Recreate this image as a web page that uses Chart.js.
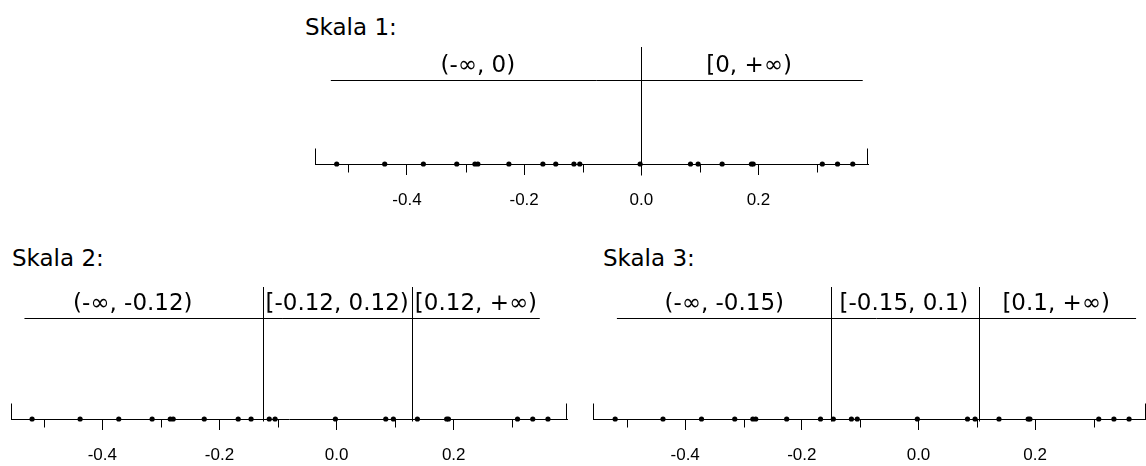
<!DOCTYPE html>
<html>
<head>
<meta charset="utf-8">
<script src="https://cdn.jsdelivr.net/npm/chart.js@4.4.1/dist/chart.umd.min.js"></script>
<style>
  html, body { margin: 0; padding: 0; background: #fff; overflow: hidden; }
  body { width: 1146px; height: 466px; position: relative; }
  canvas { position: absolute; left: 0; top: 0; }
  .title { position: absolute; font-family: "DejaVu Sans", sans-serif; font-size: 23px; color: #000; line-height: 1; }
</style>
</head>
<body>
<div class="title" style="left:305px; top:16px;">Skala 1:</div>
<div class="title" style="left:12px; top:247px;">Skala 2:</div>
<div class="title" style="left:603px; top:247px;">Skala 3:</div>
<canvas id="c1" width="1150" height="480"></canvas>
<canvas id="c2" width="1150" height="480"></canvas>
<canvas id="c3" width="1150" height="480"></canvas>
<script>
// observed values (same sample on every scale)
const values = [-0.520, -0.438, -0.372, -0.315, -0.284, -0.279, -0.226, -0.168, -0.146, -0.115,
                -0.105, -0.002, 0.084, 0.097, 0.138, 0.188, 0.191, 0.309, 0.335, 0.361];

const majorTicks = [-0.4, -0.2, 0.0, 0.2];
const minorTicks = [-0.5, -0.3, -0.1, 0.1, 0.3];

// where the dividing lines sit, and the interval names
const cuts1 = [0];
const intervals1 = ['(-∞, 0)', '[0, +∞)'];
const cuts2 = [-0.125, 0.128];
const intervals2 = ['(-∞, -0.12)', '[-0.12, 0.12)', '[0.12, +∞)'];
const cuts3 = [-0.15, 0.104];
const intervals3 = ['(-∞, -0.15)', '[-0.15, 0.1)', '[0.1, +∞)'];

const intervalPlugin = {
    id: 'intervals',
    beforeDatasetsDraw(chart, args, opts) {
        const ctx = chart.ctx;
        const x = chart.scales.x;
        const area = chart.chartArea;
        const axisY = area.bottom + 0.5;
        ctx.save();
        ctx.strokeStyle = '#000';
        ctx.lineWidth = 1;

        // axis end caps
        ctx.beginPath();
        ctx.moveTo(Math.round(area.left) + 0.5, axisY);
        ctx.lineTo(Math.round(area.left) + 0.5, axisY - 16);
        ctx.moveTo(Math.round(area.right) - 0.5, axisY);
        ctx.lineTo(Math.round(area.right) - 0.5, axisY - 16);
        ctx.stroke();

        // minor ticks
        ctx.beginPath();
        minorTicks.forEach(v => {
            const px = Math.round(x.getPixelForValue(v)) + 0.5;
            ctx.moveTo(px, axisY);
            ctx.lineTo(px, axisY + 8);
        });
        ctx.stroke();

        // interval line on top
        const hTop = Math.round(area.top) + 0.5;
        const h0 = x.getPixelForValue(opts.span[0]);
        const h1 = x.getPixelForValue(opts.span[1]);
        ctx.beginPath();
        ctx.moveTo(h0, hTop);
        ctx.lineTo(h1, hTop);
        ctx.stroke();

        // dividers
        ctx.beginPath();
        opts.cuts.forEach(v => {
            const px = Math.round(x.getPixelForValue(v)) + 0.5;
            ctx.moveTo(px, opts.lineTop);
            ctx.lineTo(px, axisY + opts.drop);
        });
        ctx.stroke();

        // interval names
        ctx.fillStyle = '#000';
        ctx.font = '23px "DejaVu Sans"';
        ctx.textAlign = 'center';
        ctx.textBaseline = 'middle';
        opts.labels.forEach((t, i) => {
            ctx.fillText(t, x.getPixelForValue(opts.labelAt[i]), area.top - 14);
        });
        ctx.restore();
    }
};

function makeScale(id, cuts, labels, labelAt, min, max, padding, span, lineTop, drop) {
    new Chart(document.getElementById(id), {
        type: 'scatter',
        data: {
            datasets: [{
                data: values.map(v => ({ x: v, y: 0 })),
                backgroundColor: '#000',
                borderColor: '#000',
                pointRadius: 2.6,
                pointBorderWidth: 0,
                clip: false,
            }]
        },
        options: {
            responsive: false,
            animation: false,
            devicePixelRatio: 1,
            layout: { padding: padding },
            scales: {
                x: {
                    type: 'linear',
                    min: min,
                    max: max,
                    afterBuildTicks: axis => { axis.ticks = majorTicks.map(v => ({ value: v })); },
                    afterFit: axis => { axis.height = 50; },
                    grid: { drawOnChartArea: false, drawTicks: true, tickLength: 11, color: '#000', lineWidth: 1 },
                    border: { display: true, color: '#000', width: 1 },
                    ticks: {
                        color: '#000',
                        padding: 15,
                        font: { family: '"Liberation Sans"', size: 17 },
                        maxRotation: 0,
                        callback: v => Number(v).toFixed(1)
                    }
                },
                y: { display: false, min: 0, max: 1 }
            },
            plugins: {
                legend: { display: false },
                tooltip: { enabled: false },
                intervals: { cuts: cuts, labels: labels, labelAt: labelAt, span: span, lineTop: lineTop, drop: drop }
            }
        },
        plugins: [intervalPlugin]
    });
}

makeScale('c1', cuts1, intervals1, [-0.279, 0.184], -0.557, 0.387,
    { left: 315, right: 282, top: 80, bottom: 266 }, [-0.53, 0.378], 47, 11);
makeScale('c2', cuts2, intervals2, [-0.348, 0.001, 0.238], -0.556, 0.3935,
    { left: 11, right: 583, top: 318, bottom: 11 }, [-0.533, 0.347], 287, 2);
makeScale('c3', cuts3, intervals3, [-0.333, -0.025, 0.236], -0.558, 0.39,
    { left: 593, right: 1, top: 318, bottom: 11 }, [-0.517, 0.373], 287, 2);
</script>
</body>
</html>
